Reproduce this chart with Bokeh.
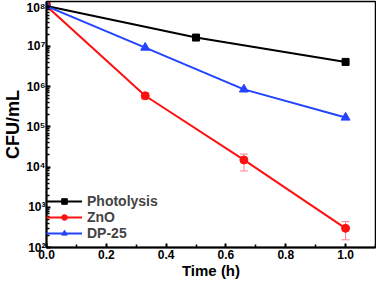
from bokeh.plotting import figure
from bokeh.models import (Range1d, FixedTicker, PrintfTickFormatter, LogTicker,
                          CustomJSTickFormatter, Whisker, TeeHead, ColumnDataSource,
                          Legend, LegendItem)
from bokeh.embed import file_html
from bokeh.resources import INLINE

# Data
photo_t = [0.0, 0.5, 1.0]
photo_v = [1.0e8, 1.65e7, 4.1e6]

zno_t = [0.0, 0.33, 0.66, 1.0]
zno_v = [1.0e8, 5.9e5, 1.5e4, 300]
zno_lo = [1.0e8, 4.9e5, 8.0e3, 155]
zno_hi = [1.0e8, 7.0e5, 2.1e4, 440]

dp_t = [0.0, 0.33, 0.66, 1.0]
dp_v = [1.0e8, 9.3e6, 8.5e5, 1.7e5]

x_ticks = [0.0, 0.2, 0.4, 0.6, 0.8, 1.0]
x_minor = [0.1, 0.3, 0.5, 0.7, 0.9, 1.1]

FONT = "Liberation Sans"
BLACK = "#000000"
RED = "#ff1010"
BLUE = "#2343ff"
ERR = "#ff7f8a"

p = figure(width=376, height=281, y_axis_type="log",
           x_range=Range1d(0.0, 1.1), y_range=Range1d(100, 1.3e8),
           output_backend="svg", toolbar_location=None,
           min_border_left=30, min_border_right=1, min_border_top=1,
           min_border_bottom=30)
p.grid.visible = False
p.outline_line_color = "black"
p.outline_line_width = 1.5

# error bars
src = ColumnDataSource(dict(x=zno_t, lo=zno_lo, hi=zno_hi))
w = Whisker(base="x", lower="lo", upper="hi", source=src,
            line_color=ERR, line_width=1,
            upper_head=TeeHead(size=8, line_color=ERR, line_width=1),
            lower_head=TeeHead(size=8, line_color=ERR, line_width=1))
p.add_layout(w)

r1l = p.line(photo_t, photo_v, line_color=BLACK, line_width=2)
r1m = p.scatter(photo_t, photo_v, marker="square", size=7, color=BLACK)
r2l = p.line(zno_t, zno_v, line_color=RED, line_width=2)
r2m = p.scatter(zno_t, zno_v, marker="circle", size=8, color=RED)
r3l = p.line(dp_t, dp_v, line_color=BLUE, line_width=2)
r3m = p.scatter(dp_t, dp_v, marker="triangle", size=9, color=BLUE)

legend = Legend(items=[
    LegendItem(label="Photolysis", renderers=[r1l, r1m]),
    LegendItem(label="ZnO", renderers=[r2l, r2m]),
    LegendItem(label="DP-25", renderers=[r3l, r3m]),
], location=(0, 6))
legend.label_text_font = FONT
legend.label_text_font_style = "bold"
legend.label_text_font_size = "14px"
legend.glyph_width = 36
legend.glyph_height = 14
legend.label_height = 14
legend.spacing = 0
legend.padding = 4
legend.margin = 0
legend.border_line_color = None
legend.background_fill_alpha = 0
p.add_layout(legend)

# x axis
xa = p.xaxis[0]
xa.ticker = FixedTicker(ticks=x_ticks, minor_ticks=x_minor)
xa.formatter = PrintfTickFormatter(format="%.1f")
xa.axis_label = "Time (h)"

# y axis
ya = p.yaxis[0]
ya.ticker = LogTicker(num_minor_ticks=10)
ya.formatter = CustomJSTickFormatter(code="""
const sup = {'0':'\u2070','1':'\u00b9','2':'\u00b2','3':'\u00b3','4':'\u2074',
             '5':'\u2075','6':'\u2076','7':'\u2077','8':'\u2078','9':'\u2079'};
const e = Math.round(Math.log10(tick));
return '10' + String(e).split('').map(c => sup[c] || c).join('');
""")
ya.axis_label = "CFU/mL"

for ax in (xa, ya):
    ax.axis_line_width = 2
    ax.axis_line_color = "black"
    ax.major_tick_line_width = 2
    ax.minor_tick_line_width = 1.5
    ax.major_tick_in = 4
    ax.major_tick_out = 0
    ax.minor_tick_in = 3
    ax.minor_tick_out = 0
    ax.major_label_text_font = FONT
    ax.major_label_text_font_style = "bold"
    ax.major_label_text_font_size = "12px"
    ax.major_label_text_color = "black"
    ax.axis_label_text_font = FONT
    ax.axis_label_text_font_style = "bold"
    ax.axis_label_text_color = "black"

xa.axis_label_text_font_size = "15px"
xa.axis_label_standoff = 0
xa.major_label_standoff = 2
ya.axis_label_text_font_size = "18px"
ya.axis_label_standoff = 0
ya.major_label_standoff = 1

open("out.html", "w").write(file_html(p, INLINE))
